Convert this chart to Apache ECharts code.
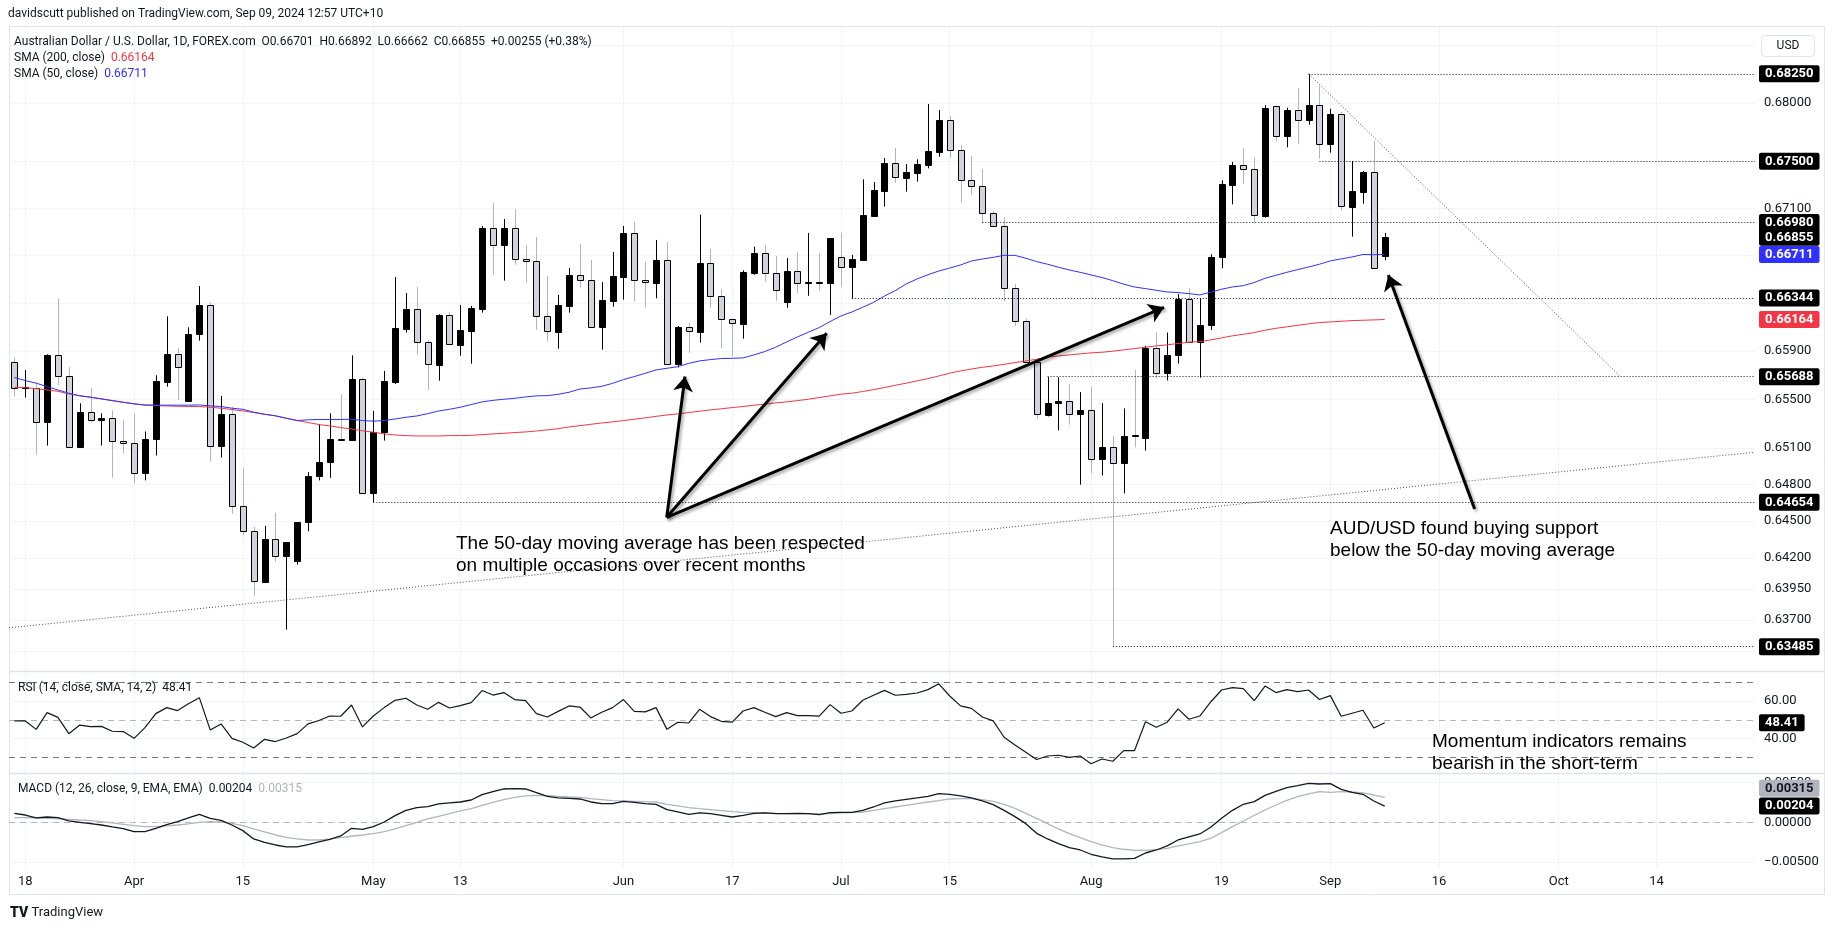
<!DOCTYPE html>
<html>
<head>
<meta charset="utf-8">
<title>AUD/USD 1D</title>
<script src="https://cdn.jsdelivr.net/npm/echarts@6/dist/echarts.min.js"></script>
<style>
  html, body { margin: 0; padding: 0; background: #fff; }
  #chart { width: 1835px; height: 931px; }
</style>
</head>
<body>
<div id="chart"></div>
<script>
// daily candles, index 0 = 15 Mar 2024 ... index 126 = 9 Sep 2024
const opens = [0.65808,0.65595,0.65592,0.65317,0.65866,0.65692,0.65105,0.65394,0.65328,0.65345,0.65156,0.65139,0.64890,0.65175,0.65647,0.65874,0.65490,0.66041,0.66283,0.65119,0.65380,0.64620,0.64417,0.64006,0.64354,0.64216,0.64172,0.64489,0.64868,0.64982,0.65177,0.65166,0.65667,0.64729,0.65228,0.65647,0.66088,0.66252,0.65974,0.65788,0.66199,0.65954,0.66071,0.66255,0.66931,0.66788,0.66931,0.66669,0.66652,0.66191,0.66063,0.66280,0.66535,0.66493,0.66099,0.66323,0.66523,0.66892,0.66496,0.66473,0.66664,0.65796,0.66102,0.66063,0.66638,0.66358,0.66166,0.66130,0.66558,0.66723,0.66552,0.66314,0.66571,0.66470,0.66476,0.66467,0.66688,0.66602,0.66663,0.67035,0.67250,0.67486,0.67361,0.67404,0.67472,0.67582,0.67850,0.67594,0.67341,0.67287,0.67058,0.66950,0.66425,0.66152,0.65813,0.65373,0.65466,0.65485,0.65378,0.65413,0.65008,0.65107,0.64974,0.65203,0.65184,0.65925,0.65718,0.65867,0.66334,0.65974,0.66116,0.66686,0.67301,0.67469,0.67432,0.67039,0.67971,0.67717,0.67936,0.67851,0.67979,0.67645,0.67902,0.67115,0.67242,0.67406,0.66701];
const highs = [0.65846,0.65744,0.65642,0.65874,0.66342,0.65767,0.65468,0.65595,0.65385,0.65410,0.65328,0.65385,0.65235,0.65700,0.66191,0.65924,0.66099,0.66445,0.66308,0.65529,0.65438,0.64933,0.64455,0.64461,0.64568,0.64329,0.64492,0.64901,0.65297,0.65385,0.65545,0.65866,0.65681,0.65405,0.65736,0.66521,0.66386,0.66437,0.65994,0.66208,0.66230,0.66286,0.66278,0.66951,0.67146,0.67010,0.67095,0.66790,0.66858,0.66529,0.66370,0.66597,0.66799,0.66664,0.66478,0.66731,0.66951,0.66985,0.66647,0.66833,0.66816,0.66110,0.66138,0.67047,0.66757,0.66417,0.66172,0.66577,0.66776,0.66793,0.66697,0.66680,0.66731,0.66892,0.66723,0.66849,0.66892,0.66708,0.67347,0.67324,0.67528,0.67614,0.67477,0.67517,0.67991,0.67939,0.67887,0.67639,0.67545,0.67434,0.67080,0.67026,0.66461,0.66174,0.65830,0.65684,0.65684,0.65626,0.65560,0.65603,0.65469,0.65200,0.65425,0.65745,0.65945,0.66056,0.66056,0.66378,0.66429,0.66342,0.66712,0.67338,0.67495,0.67611,0.67532,0.67982,0.67976,0.67959,0.68128,0.68250,0.68149,0.67951,0.67925,0.67503,0.67418,0.67674,0.66892];
const lows = [0.65523,0.65515,0.65045,0.65119,0.65614,0.65100,0.65103,0.65309,0.65119,0.64854,0.65054,0.64810,0.64833,0.65037,0.65606,0.65496,0.65487,0.65988,0.64987,0.65020,0.64561,0.64384,0.63896,0.64006,0.64169,0.63622,0.64147,0.64417,0.64833,0.64854,0.65164,0.65164,0.64729,0.64652,0.65160,0.65627,0.66055,0.65871,0.65578,0.65655,0.65957,0.65863,0.65796,0.66222,0.66540,0.66490,0.66624,0.66473,0.66079,0.65980,0.65921,0.66222,0.66431,0.66099,0.65913,0.66272,0.66331,0.66314,0.66264,0.66342,0.65796,0.65765,0.65886,0.65971,0.66264,0.65924,0.65855,0.66004,0.66540,0.66481,0.66322,0.66263,0.66389,0.66363,0.66406,0.66202,0.66439,0.66339,0.66660,0.67029,0.67114,0.67318,0.67242,0.67327,0.67440,0.67539,0.67531,0.67148,0.67216,0.66973,0.66950,0.66314,0.66110,0.65813,0.65340,0.65359,0.65244,0.65291,0.64798,0.64890,0.64873,0.63485,0.64727,0.65104,0.65078,0.65677,0.65657,0.65797,0.65974,0.65680,0.66077,0.66594,0.67134,0.67307,0.66979,0.67022,0.67668,0.67620,0.67645,0.67813,0.67523,0.67574,0.67084,0.66861,0.67140,0.66595,0.66662];
const closes = [0.65592,0.65600,0.65317,0.65869,0.65692,0.65105,0.65394,0.65328,0.65345,0.65153,0.65139,0.64892,0.65177,0.65650,0.65874,0.65772,0.66041,0.66286,0.65119,0.65380,0.64620,0.64417,0.64012,0.64354,0.64216,0.64329,0.64492,0.64868,0.64982,0.65177,0.65166,0.65667,0.64729,0.65227,0.65653,0.66093,0.66252,0.65974,0.65791,0.66202,0.65957,0.66074,0.66264,0.66934,0.66788,0.66931,0.66669,0.66652,0.66191,0.66066,0.66283,0.66535,0.66493,0.66099,0.66328,0.66526,0.66892,0.66496,0.66476,0.66664,0.65796,0.66102,0.66066,0.66638,0.66358,0.66166,0.66133,0.66563,0.66723,0.66552,0.66409,0.66571,0.66467,0.66476,0.66470,0.66849,0.66602,0.66671,0.67044,0.67256,0.67486,0.67364,0.67409,0.67474,0.67588,0.67853,0.67594,0.67341,0.67287,0.67058,0.66950,0.66425,0.66152,0.65813,0.65379,0.65469,0.65485,0.65378,0.65413,0.65008,0.65107,0.64974,0.65200,0.65197,0.65928,0.65718,0.65867,0.66334,0.65974,0.66116,0.66689,0.67307,0.67469,0.67435,0.67044,0.67959,0.67717,0.67936,0.67853,0.67979,0.67645,0.67902,0.67121,0.67248,0.67412,0.66595,0.66855];

const sma50 = [0.65681,0.65656,0.65634,0.65606,0.65578,0.65551,0.65529,0.65518,0.65504,0.65490,0.65476,0.65463,0.65454,0.65452,0.65452,0.65452,0.65452,0.65454,0.65446,0.65441,0.65427,0.65418,0.65394,0.65377,0.65364,0.65344,0.65325,0.65331,0.65334,0.65334,0.65334,0.65336,0.65325,0.65320,0.65325,0.65338,0.65352,0.65363,0.65382,0.65404,0.65418,0.65435,0.65457,0.65479,0.65492,0.65501,0.65509,0.65520,0.65529,0.65531,0.65542,0.65559,0.65586,0.65595,0.65608,0.65633,0.65664,0.65689,0.65716,0.65744,0.65758,0.65771,0.65799,0.65819,0.65830,0.65839,0.65841,0.65844,0.65869,0.65897,0.65933,0.65977,0.66019,0.66058,0.66097,0.66147,0.66194,0.66227,0.66267,0.66308,0.66361,0.66406,0.66462,0.66504,0.66540,0.66571,0.66596,0.66622,0.66655,0.66672,0.66686,0.66703,0.66703,0.66678,0.66650,0.66628,0.66603,0.66580,0.66560,0.66538,0.66516,0.66490,0.66460,0.66437,0.66423,0.66409,0.66395,0.66390,0.66381,0.66370,0.66393,0.66418,0.66437,0.66448,0.66474,0.66510,0.66535,0.66560,0.66583,0.66605,0.66628,0.66656,0.66673,0.66689,0.66710,0.66708,0.66711];
const sma200 = [0.65600,0.65597,0.65589,0.65578,0.65567,0.65545,0.65531,0.65518,0.65504,0.65490,0.65476,0.65463,0.65452,0.65449,0.65446,0.65443,0.65441,0.65441,0.65435,0.65427,0.65416,0.65405,0.65391,0.65377,0.65364,0.65344,0.65325,0.65309,0.65292,0.65281,0.65267,0.65256,0.65240,0.65229,0.65215,0.65206,0.65201,0.65198,0.65198,0.65198,0.65201,0.65201,0.65203,0.65209,0.65215,0.65220,0.65226,0.65231,0.65239,0.65248,0.65258,0.65272,0.65283,0.65294,0.65305,0.65314,0.65325,0.65336,0.65347,0.65360,0.65371,0.65380,0.65391,0.65402,0.65413,0.65422,0.65432,0.65441,0.65452,0.65460,0.65471,0.65479,0.65490,0.65501,0.65515,0.65529,0.65543,0.65551,0.65565,0.65581,0.65598,0.65617,0.65634,0.65653,0.65672,0.65694,0.65717,0.65736,0.65752,0.65766,0.65777,0.65791,0.65805,0.65819,0.65833,0.65850,0.65861,0.65869,0.65878,0.65886,0.65891,0.65900,0.65911,0.65922,0.65933,0.65944,0.65953,0.65964,0.65975,0.65980,0.65994,0.66011,0.66028,0.66041,0.66055,0.66075,0.66091,0.66103,0.66116,0.66128,0.66139,0.66144,0.66150,0.66155,0.66158,0.66161,0.66164];

const rsi = [49.4,49.4,44.9,53.8,51.3,42.6,47.2,46.4,46.5,43.9,43.7,40.1,45.8,53.3,56.5,54.9,58.6,61.8,44.6,47.8,40.1,38.0,35.0,39.6,38.4,40.3,42.6,47.8,49.6,52.0,51.9,57.9,46.2,52.0,56.5,60.4,61.5,57.9,55.6,59.3,56.3,57.6,59.2,
  65.6,63.2,64.5,60.8,60.2,53.3,51.5,54.5,57.4,56.8,51.0,54.0,56.5,60.8,54.5,54.2,56.5,44.9,48.7,48.3,55.6,51.7,49.2,48.8,54.7,56.5,54.0,51.7,53.8,52.2,52.2,52.0,58.1,53.5,54.7,60.4,63.1,65.7,63.1,63.6,64.3,66.1,69.2,
  62.7,57.4,56.1,51.5,49.4,40.7,36.6,32.7,28.8,30.7,31.1,30.0,30.7,26.6,29.1,27.9,33.6,33.6,49.0,46.0,48.7,55.8,50.3,52.0,59.5,65.9,67.2,66.6,60.2,68.0,64.5,66.1,65.0,65.9,60.8,62.9,51.9,53.5,55.1,45.6,48.41];

const macd = [0.00113,0.00092,0.00055,0.00067,0.00059,0.00017,0.00000,-0.00017,-0.00034,-0.00059,-0.00080,-0.00118,-0.00118,-0.00076,-0.00029,0.00008,0.00055,0.00101,0.00050,0.00025,-0.00034,-0.00105,-0.00210,-0.00252,-0.00286,-0.00311,-0.00311,-0.00282,-0.00248,-0.00214,-0.00172,-0.00076,-0.00088,-0.00055,0.00004,0.00084,0.00151,0.00185,0.00197,0.00231,0.00244,0.00256,0.00281,
  0.00349,0.00386,0.00420,0.00424,0.00420,0.00374,0.00328,0.00307,0.00302,0.00294,0.00256,0.00235,0.00235,0.00265,0.00252,0.00235,0.00227,0.00160,0.00130,0.00101,0.00118,0.00109,0.00088,0.00067,0.00088,0.00113,0.00118,0.00109,0.00109,0.00113,0.00109,0.00097,0.00122,0.00126,0.00126,0.00151,0.00193,0.00244,0.00269,0.00290,0.00307,0.00328,0.00361,
  0.00353,0.00332,0.00307,0.00269,0.00223,0.00151,0.00071,-0.00017,-0.00139,-0.00210,-0.00269,-0.00319,-0.00349,-0.00403,-0.00437,-0.00462,-0.00462,-0.00454,-0.00387,-0.00349,-0.00298,-0.00223,-0.00185,-0.00147,-0.00063,0.00050,0.00151,0.00227,0.00260,0.00340,0.00391,0.00437,0.00462,0.00491,0.00483,0.00487,0.00416,0.00378,0.00353,0.00269,0.00204];
const macdSignal = [0.00058,0.00058,0.00054,0.00051,0.00046,0.00038,0.00029,0.00021,0.00008,-0.00008,-0.00025,-0.00042,-0.00055,-0.00055,-0.00046,-0.00034,-0.00021,0.00000,0.00008,0.00004,-0.00013,-0.00042,-0.00084,-0.00122,-0.00160,-0.00189,-0.00210,-0.00223,-0.00223,-0.00210,-0.00193,-0.00176,-0.00160,-0.00143,-0.00118,-0.00084,-0.00042,0.00000,0.00042,0.00076,0.00109,0.00143,0.00172,
  0.00214,0.00252,0.00286,0.00315,0.00332,0.00340,0.00336,0.00328,0.00319,0.00315,0.00298,0.00286,0.00273,0.00269,0.00265,0.00260,0.00256,0.00227,0.00206,0.00185,0.00172,0.00160,0.00147,0.00134,0.00126,0.00122,0.00118,0.00113,0.00109,0.00109,0.00109,0.00105,0.00109,0.00118,0.00122,0.00130,0.00151,0.00172,0.00193,0.00214,0.00235,0.00256,0.00273,
  0.00294,0.00298,0.00298,0.00286,0.00265,0.00227,0.00176,0.00113,0.00050,-0.00017,-0.00084,-0.00143,-0.00193,-0.00244,-0.00286,-0.00319,-0.00340,-0.00353,-0.00353,-0.00344,-0.00328,-0.00298,-0.00273,-0.00244,-0.00202,-0.00130,-0.00055,0.00017,0.00088,0.00155,0.00218,0.00277,0.00323,0.00357,0.00386,0.00378,0.00386,0.00382,0.00370,0.00344,0.00315];

// time axis labels (candle index -> text)
const dateTickIdx = [1, 11, 21, 33, 41, 56, 66, 76, 86, 99, 111, 121, 131, 142, 151];
const dateTickText = ['18', 'Apr', '15', 'May', '13', 'Jun', '17', 'Jul', '15', 'Aug', '19', 'Sep', '16', 'Oct', '14'];

// price scale
const priceGrid = [0.685, 0.68, 0.675, 0.671, 0.667, 0.663, 0.659, 0.655, 0.651, 0.648, 0.645, 0.642, 0.6395, 0.637, 0.6345];
const priceTicks = [0.68, 0.671, 0.659, 0.655, 0.651, 0.648, 0.645, 0.642, 0.6395, 0.637];

// horizontal levels: [start candle, price]
const levels = [[119, 0.6825], [120, 0.675], [89, 0.6698], [77, 0.66344], [95, 0.65688], [33, 0.64654], [101, 0.63485]];
// drawn trend lines: [[x, price], [x, price]]
const trendLines = [
  [[-0.5, 0.63637], [160.05, 0.65064]],
  [[119, 0.6825], [147.7, 0.65687]]
];
// arrows: tail -> head
const arrows = [
  [[59.98, 0.64531], [61.66, 0.65690]],
  [[59.98, 0.64531], [74.69, 0.66049]],
  [[59.98, 0.64531], [105.71, 0.66266]],
  [[134.27, 0.64599], [126.33, 0.66538]]
];
const lastPrice = 0.66855;
const lastSma50 = 0.66711;
const lastSma200 = 0.66164;
const lastRsi = 48.41;
const lastMacd = 0.00204;
const lastSignal = 0.00315;

const X_MIN = -0.5, X_MAX = 160.05;
const FONT = 'Roboto, "Noto Sans", sans-serif';
const TEXT = '#131722';
const GRID_LINE = '#f0f3fa';
const BLUE = '#3030ff';
const RED = '#f23645';

const chart = echarts.init(document.getElementById('chart'));

const candleData = opens.map((o, i) => [i, o, closes[i], lows[i], highs[i]]);
const pairs = arr => arr.map((v, i) => [i, v]);

function renderCandle(params, api) {
  const x = api.value(0);
  const o = api.value(1), c = api.value(2), l = api.value(3), h = api.value(4);
  const pO = api.coord([x, o]), pC = api.coord([x, c]);
  const pH = api.coord([x, h]), pL = api.coord([x, l]);
  const cx = Math.round(pO[0]);
  const up = c >= o;
  const top = Math.round(Math.min(pO[1], pC[1]));
  const bot = Math.round(Math.max(pO[1], pC[1]));
  return {
    type: 'group',
    children: [
      { type: 'line', shape: { x1: cx + 0.5, y1: pH[1], x2: cx + 0.5, y2: pL[1] },
        style: { stroke: up ? '#000000' : '#b2b5be', lineWidth: 1 } },
      { type: 'rect', shape: { x: cx - 2.5, y: top + 0.5, width: 6, height: Math.max(bot - top, 1) },
        style: { fill: up ? '#000000' : '#d1d4dc', stroke: '#000000', lineWidth: 1 } }
    ]
  };
}

function xAxisFor(gridIndex, withLabels) {
  return {
    type: 'value', gridIndex: gridIndex, min: X_MIN, max: X_MAX,
    axisLine: { show: false },
    axisTick: { show: false, customValues: dateTickIdx },
    splitLine: { show: true, lineStyle: { color: GRID_LINE, width: 1 } },
    axisLabel: {
      show: withLabels, customValues: dateTickIdx, margin: 7,
      color: TEXT, fontSize: 13, fontFamily: FONT,
      formatter: v => dateTickText[dateTickIdx.indexOf(Math.round(v))] || ''
    }
  };
}

function plainLabel(text) {
  return { show: true, position: 'end', distance: 9, formatter: text, color: TEXT, fontSize: 13, fontFamily: FONT };
}
function boxLabel(text, bg, fg, offsetY) {
  return {
    show: true, position: 'end', distance: 4, formatter: text,
    color: fg || '#ffffff', backgroundColor: bg, fontFamily: FONT, fontSize: 13, fontWeight: 'bold',
    padding: [2, 6, 2, 6], borderRadius: 2, offset: [0, offsetY || 0]
  };
}
// an invisible stub at the right edge that only carries a price-scale label
function markerOnly(v, label) {
  return { coords: [[159.95, v], [X_MAX, v]], lineStyle: { color: 'rgba(0,0,0,0)', width: 1, opacity: 1 }, label: label };
}
function linesSeries(gridIdx, data, z, extra) {
  return Object.assign({
    type: 'lines', coordinateSystem: 'cartesian2d', xAxisIndex: gridIdx, yAxisIndex: gridIdx,
    polyline: false, silent: true, clip: false, animation: false, z: z,
    symbol: 'none', lineStyle: { opacity: 1 }, data: data
  }, extra || {});
}
function plainLine(gridIdx, data, color, width, z) {
  return {
    type: 'line', xAxisIndex: gridIdx, yAxisIndex: gridIdx, data: data, showSymbol: false, symbol: 'none',
    lineStyle: { color: color, width: width }, silent: true, z: z, animation: false
  };
}

const option = {
  animation: false,
  backgroundColor: '#ffffff',
  grid: [
    { left: 9, top: 27, width: 1746, height: 643 },
    { left: 9, top: 672, width: 1746, height: 101 },
    { left: 9, top: 774, width: 1746, height: 94 }
  ],
  xAxis: [xAxisFor(0, false), xAxisFor(1, false), xAxisFor(2, true)],
  yAxis: [
    { type: 'log', gridIndex: 0, min: 0.632983, max: 0.686553, position: 'right',
      axisLine: { show: false }, axisTick: { show: false }, axisLabel: { show: false }, splitLine: { show: false } },
    { type: 'value', gridIndex: 1, min: 21.63, max: 75.49, position: 'right',
      axisLine: { show: false },
      axisTick: { show: false, customValues: [40, 60] },
      splitLine: { show: true, lineStyle: { color: GRID_LINE } },
      axisLabel: { customValues: [40, 60], margin: 9, color: TEXT, fontSize: 13, fontFamily: FONT,
        formatter: v => v.toFixed(2) } },
    { type: 'value', gridIndex: 2, min: -0.005761, max: 0.006089, position: 'right',
      axisLine: { show: false },
      axisTick: { show: false, customValues: [-0.005, 0, 0.005] },
      splitLine: { show: true, lineStyle: { color: GRID_LINE } },
      axisLabel: { customValues: [-0.005, 0, 0.005], margin: 9, color: TEXT, fontSize: 13, fontFamily: FONT,
        formatter: v => (v < 0 ? '\u2212' : '') + Math.abs(v).toFixed(5) } }
  ],
  series: [
    // price grid lines and scale labels
    linesSeries(0, priceGrid.map(v => ({
      coords: [[X_MIN, v], [X_MAX, v]],
      lineStyle: { color: GRID_LINE, width: 1, opacity: 1 },
      label: priceTicks.includes(v) ? plainLabel(v.toFixed(5)) : { show: false }
    })), 0),
    {
      type: 'custom', xAxisIndex: 0, yAxisIndex: 0, data: candleData,
      encode: { x: 0, y: [1, 2, 3, 4] }, renderItem: renderCandle, clip: true, z: 3, silent: true
    },
    plainLine(0, pairs(sma200), RED, 1, 4),
    plainLine(0, pairs(sma50), BLUE, 1, 4),
    // dotted support / resistance levels
    linesSeries(0, levels.map(lv => ({
      coords: [[lv[0], lv[1]], [X_MAX, lv[1]]],
      lineStyle: { color: TEXT, width: 1, type: [1, 2], opacity: 1 },
      label: boxLabel(lv[1].toFixed(5), '#000000')
    })), 5),
    linesSeries(0, trendLines.map(t => ({
      coords: t, lineStyle: { color: '#4a4d57', width: 1, type: [1, 2], opacity: 1 }
    })), 5),
    // last values on the price scale
    linesSeries(0, [
      markerOnly(lastPrice, boxLabel(lastPrice.toFixed(5), '#000000')),
      markerOnly(lastSma50, boxLabel(lastSma50.toFixed(5), BLUE)),
      markerOnly(lastSma200, boxLabel(lastSma200.toFixed(5), RED))
    ], 7),
    linesSeries(0, arrows.map(a => ({ coords: a })), 8, {
      symbol: ['none', 'arrow'], symbolSize: [11, 15],
      lineStyle: { color: '#000000', width: 3, opacity: 1,
        shadowColor: 'rgba(0,0,0,0.35)', shadowBlur: 3, shadowOffsetX: 2, shadowOffsetY: 2 }
    }),

    // RSI pane
    linesSeries(1, [
      { coords: [[X_MIN, 70], [X_MAX, 70]], lineStyle: { color: '#787b86', width: 1, type: [6, 5], opacity: 1 } },
      { coords: [[X_MIN, 50], [X_MAX, 50]], lineStyle: { color: '#b2b5be', width: 1, type: [6, 5], opacity: 1 } },
      { coords: [[X_MIN, 30], [X_MAX, 30]], lineStyle: { color: '#787b86', width: 1, type: [6, 5], opacity: 1 } }
    ], 1),
    plainLine(1, pairs(rsi), TEXT, 1.2, 4),
    linesSeries(1, [markerOnly(lastRsi, boxLabel(lastRsi.toFixed(2), '#000000'))], 7),

    // MACD pane
    linesSeries(2, [
      { coords: [[X_MIN, 0], [X_MAX, 0]], lineStyle: { color: '#b2b5be', width: 1, type: [6, 5], opacity: 1 } }
    ], 1),
    plainLine(2, pairs(macdSignal), '#b2b5be', 1.3, 4),
    plainLine(2, pairs(macd), TEXT, 1.3, 5),
    linesSeries(2, [
      markerOnly(lastSignal, boxLabel(lastSignal.toFixed(5), '#b2b5be', TEXT, -9)),
      markerOnly(lastMacd, boxLabel(lastMacd.toFixed(5), '#000000'))
    ], 7)
  ],
  graphic: [
    { type: 'rect', silent: true, z: -10, shape: { x: 9.5, y: 26.5, width: 1815, height: 868 },
      style: { fill: 'none', stroke: '#e0e3eb', lineWidth: 1 } },
    { type: 'line', silent: true, z: 50, shape: { x1: 9, y1: 671.5, x2: 1825, y2: 671.5 },
      style: { stroke: '#e0e3eb', lineWidth: 1.5 } },
    { type: 'line', silent: true, z: 50, shape: { x1: 9, y1: 773.5, x2: 1825, y2: 773.5 },
      style: { stroke: '#e0e3eb', lineWidth: 1.5 } },
    { type: 'text', silent: true, z: 100, x: 8, y: 14,
      style: { text: 'davidscutt published on TradingView.com, Sep 09, 2024 12:57 UTC+10',
        fill: TEXT, fontSize: 12, fontFamily: FONT, verticalAlign: 'middle' } },
    { type: 'text', silent: true, z: 100, x: 14, y: 41.5,
      style: { text: 'Australian Dollar / U.S. Dollar, 1D, FOREX.com  O0.66701  H0.66892  L0.66662  C0.66855  +0.00255 (+0.38%)',
        fill: TEXT, fontSize: 12, fontFamily: FONT, verticalAlign: 'middle' } },
    { type: 'text', silent: true, z: 100, x: 14, y: 57.5,
      style: { text: '{n|SMA (200, close)}  {r|0.66164}', fill: TEXT, fontSize: 12, fontFamily: FONT, verticalAlign: 'middle',
        rich: { n: { fill: TEXT, fontSize: 12, fontFamily: FONT }, r: { fill: RED, fontSize: 12, fontFamily: FONT } } } },
    { type: 'text', silent: true, z: 100, x: 14, y: 74,
      style: { text: '{n|SMA (50, close)}  {b|0.66711}', fill: TEXT, fontSize: 12, fontFamily: FONT, verticalAlign: 'middle',
        rich: { n: { fill: TEXT, fontSize: 12, fontFamily: FONT }, b: { fill: BLUE, fontSize: 12, fontFamily: FONT } } } },
    { type: 'text', silent: true, z: 100, x: 18, y: 688,
      style: { text: 'RSI (14, close, SMA, 14, 2)  48.41', fill: TEXT, fontSize: 12, fontFamily: FONT, verticalAlign: 'middle' } },
    { type: 'text', silent: true, z: 100, x: 18, y: 789,
      style: { text: '{n|MACD (12, 26, close, 9, EMA, EMA)  0.00204}  {g|0.00315}', fill: TEXT, fontSize: 12, fontFamily: FONT, verticalAlign: 'middle',
        rich: { n: { fill: TEXT, fontSize: 12, fontFamily: FONT }, g: { fill: '#b2b5be', fontSize: 12, fontFamily: FONT } } } },
    // USD unit box
    { type: 'rect', silent: true, z: 100, shape: { x: 1761.5, y: 35.5, width: 53, height: 21, r: 4 },
      style: { fill: '#ffffff', stroke: '#e0e3eb', lineWidth: 1 } },
    { type: 'text', silent: true, z: 101, x: 1788, y: 46,
      style: { text: 'USD', fill: TEXT, fontSize: 12, fontFamily: FONT, align: 'center', verticalAlign: 'middle' } },
    // annotations
    { type: 'text', silent: true, z: 100, x: 456, y: 533,
      style: { text: 'The 50-day moving average has been respected\non multiple occasions over recent months',
        fill: '#000000', fontSize: 19, fontFamily: '"Liberation Sans", Arial, sans-serif', lineHeight: 22 } },
    { type: 'text', silent: true, z: 100, x: 1330, y: 518,
      style: { text: 'AUD/USD found buying support\nbelow the 50-day moving average',
        fill: '#000000', fontSize: 19, fontFamily: '"Liberation Sans", Arial, sans-serif', lineHeight: 22 } },
    { type: 'text', silent: true, z: 100, x: 1432, y: 731,
      style: { text: 'Momentum indicators remains\nbearish in the short-term',
        fill: '#000000', fontSize: 19, fontFamily: '"Liberation Sans", Arial, sans-serif', lineHeight: 22 } },
    // TradingView mark
    { type: 'text', silent: true, z: 100, x: 10, y: 913,
      style: { text: '{l|TV} {t|TradingView}', verticalAlign: 'middle',
        rich: { l: { fill: TEXT, fontSize: 14, fontWeight: 900, fontFamily: FONT },
                t: { fill: TEXT, fontSize: 13, fontFamily: FONT } } } }
  ]
};

chart.setOption(option);
</script>
</body>
</html>
